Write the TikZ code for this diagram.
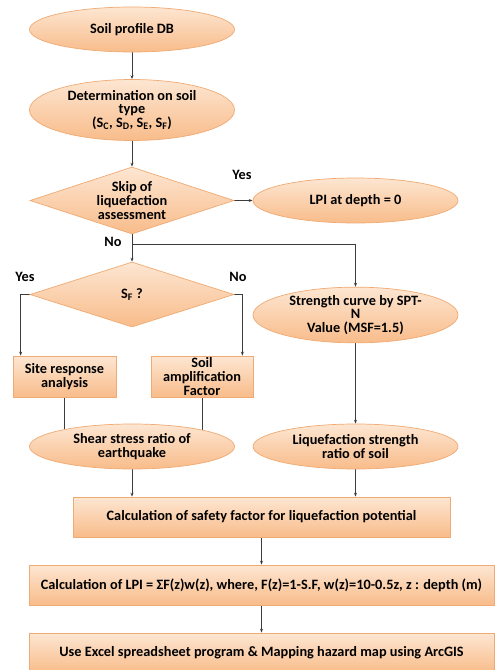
\documentclass[tikz,border=0pt]{standalone}
\usepackage{fontspec}
\setmainfont{Carlito}
\usetikzlibrary{shapes.geometric,arrows.meta,backgrounds}
\definecolor{bordc}{RGB}{240,170,115}
\definecolor{topc}{RGB}{253,230,210}
\definecolor{botc}{RGB}{248,188,138}
\definecolor{linec}{RGB}{60,60,60}
\tikzset{
  peach/.style={draw=bordc, line width=0.7pt, top color=topc, bottom color=botc,
    font=\bfseries\fontsize{14.3}{13.6}\selectfont, align=center, inner sep=0pt, text=black},
  ell/.style={peach, ellipse, minimum width=205pt},
  dia/.style={peach, diamond, aspect=3.05, minimum width=204pt},
  boxr/.style={peach, rectangle, minimum height=41pt},
  lbl/.style={font=\bfseries\fontsize{14.3}{12}\selectfont, inner sep=0pt},
  arr/.style={draw=linec, line width=0.7pt, -{Stealth[length=4pt,width=3pt]}},
  ln/.style={draw=linec, line width=0.7pt}
}
\begin{document}
\begin{tikzpicture}[x=1pt,y=-1pt]
\useasboundingbox (0,0) rectangle (495,670);
\node[ell, minimum height=45pt] (e1) at (132,29.5) {Soil profile DB};
\node[ell, minimum height=61pt] (e2) at (132,110) {Determination on soil\\type\\(S\textsubscript{C}, S\textsubscript{D}, S\textsubscript{E}, S\textsubscript{F})};
\node[dia, minimum height=67pt] (d1) at (132,200.5) {Skip of\\liquefaction\\assessment};
\node[ell, minimum height=45pt] (e3) at (355.5,200.5) {LPI at depth = 0};
\node[dia, minimum height=65pt] (d2) at (132,294.5) {S\textsubscript{F} ?};
\node[ell, minimum height=44pt] (e4) at (355.5,315) {Strength curve by SPT-\\N\\Value (MSF=1.5)};
\node[boxr, minimum width=103pt] (sra) at (64.5,376.5) {Site response\\analysis};
\node[boxr, minimum width=102pt] (saf) at (202,376.5) {Soil\\amplification\\Factor};
\node[ell, minimum height=45pt] (ssr) at (132,446.5) {Shear stress ratio of\\earthquake};
\node[ell, minimum height=45pt] (lsr) at (355.5,446.5) {Liquefaction strength\\ratio of soil};
\node[boxr, minimum width=377pt, minimum height=40pt] (b7) at (261.5,517) {Calculation of safety factor for liquefaction potential};
\node[boxr, minimum width=465pt, minimum height=40pt] (b8) at (261.5,585) {Calculation of LPI = ΣF(z)w(z), where, F(z)=1-S.F, w(z)=10-0.5z, z : depth (m)};
\node[boxr, minimum width=465pt, minimum height=40pt] (b9) at (261.5,653) {Use Excel spreadsheet program \& Mapping hazard map using ArcGIS};
\node[lbl] (y1) at (242,175) {Yes};
\node[lbl] (n1) at (113,242) {No};
\node[lbl] (y2) at (25,277) {Yes};
\node[lbl] (n2) at (238,277) {No};
\coordinate (br) at (132,244);
\begin{scope}[on background layer]
\draw[arr] (e1.south) -- (e2.north);
\draw[arr] (e2.south) -- (d1.north);
\draw[arr] (d1.east) -- (e3.west);
\draw[arr] (d1.south) -- (d2.north);
\draw[arr] (br) -| (e4.north);
\draw[arr] (d2.west) -| ([xshift=8]sra.north west);
\draw[arr] (d2.east) -| ([xshift=-11]saf.north east);
\draw[ln] (sra.south) -- (sra.south |- ssr.center);
\draw[ln] (saf.south) -- (saf.south |- ssr.center);
\draw[arr] (e4.south) -- (lsr.north);
\draw[arr] (ssr.south) -- (ssr.south |- b7.north);
\draw[arr] (lsr.south) -- (lsr.south |- b7.north);
\draw[arr] (b7.south) -- (b8.north);
\draw[arr] (b8.south) -- (b9.north);
\end{scope}
\end{tikzpicture}
\end{document}
